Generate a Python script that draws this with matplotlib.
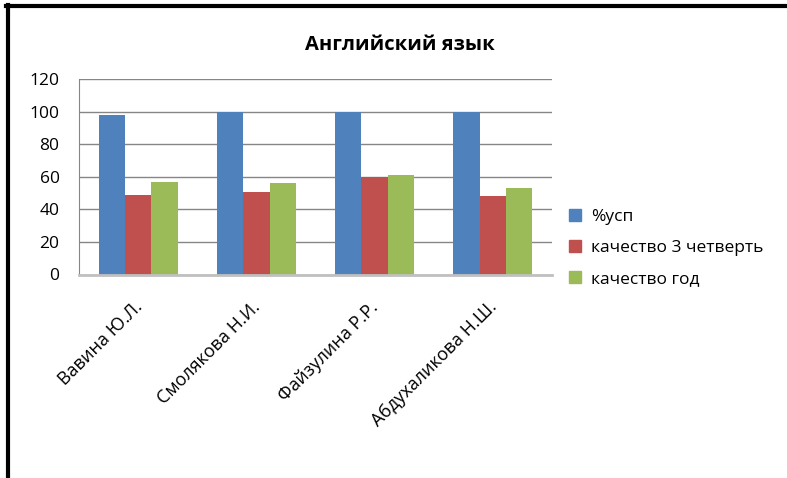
import matplotlib
matplotlib.use("Agg")
import matplotlib.pyplot as plt
import matplotlib.transforms as mtransforms
import numpy as np
from matplotlib.lines import Line2D

categories = ["Вавина Ю.Л.", "Смолякова Н.И.", "Файзулина Р.Р.", "Абдухаликова Н.Ш."]
series_names = ["%усп", "качество 3 четверть", "качество год"]
uspevaemost = [98, 100, 100, 100]
kachestvo_3q = [49, 50.5, 60, 48]
kachestvo_god = [56.5, 56, 61, 53]
colors = ["#4F81BD", "#C0504D", "#9BBB59"]
yticks = [0, 20, 40, 60, 80, 100, 120]

plt.rcParams['font.family'] = ['Open Sans', 'DejaVu Sans']

W, H = 787, 478
fig = plt.figure(figsize=(W / 100, H / 100), dpi=100)

# plot area in pixel coords
left, right, top, bottom = 79, 552, 79, 274.5
ax = fig.add_axes([left / W, 1 - bottom / H, (right - left) / W, (bottom - top) / H])

x = np.arange(len(categories))
bw = 1 / 4.5
data = [uspevaemost, kachestvo_3q, kachestvo_god]
for i, (vals, c, name) in enumerate(zip(data, colors, series_names)):
    ax.bar(x + (i - 1) * bw, vals, width=bw, color=c, label=name, zorder=3)

ax.set_xlim(-0.5, len(categories) - 0.5)
ax.set_ylim(0, 120)
ax.set_yticks(yticks)
ax.set_yticklabels([str(t) for t in yticks], fontsize=12.5)
ax.yaxis.grid(True, color="#868686", linewidth=1.0, zorder=0)
ax.tick_params(axis='y', length=0, pad=14)
ax.tick_params(axis='x', length=0, pad=17)
ax.set_xticks(x)
ax.set_xticklabels(categories, rotation=45, ha='right', rotation_mode='anchor', fontsize=13)
offset = mtransforms.ScaledTranslation(-5 / 100, 0, fig.dpi_scale_trans)
for lbl in ax.get_xticklabels():
    lbl.set_transform(lbl.get_transform() + offset)

for s in ["top", "right"]:
    ax.spines[s].set_visible(False)
ax.spines["left"].set_color("#868686")
ax.spines["bottom"].set_color("#C0C0C0")
ax.spines["bottom"].set_linewidth(2)
ax.spines["bottom"].set_zorder(4)

fig.text(400 / W, 1 - 45 / H, "Английский язык", ha='center', va='center',
         fontsize=14.5, fontweight='bold')

handles = [Line2D([0], [0], marker='s', linestyle='none', markersize=8,
                  markerfacecolor=c, markeredgecolor=c) for c in colors]
fig.legend(handles, series_names, loc='center left',
           bbox_to_anchor=(549 / W, 1 - 248 / H), frameon=False,
           fontsize=12.5, labelspacing=0.85, handletextpad=0.3, handlelength=1.2)

# outer frame lines (left and top)
fig.add_artist(Line2D([7.5 / W, 7.5 / W], [0, 1 - 5 / H], color='black', linewidth=3,
                      transform=fig.transFigure))
fig.add_artist(Line2D([6 / W, 787 / W], [1 - 5.5 / H, 1 - 5.5 / H], color='black', linewidth=3,
                      transform=fig.transFigure))

fig.savefig("out.png", dpi=100)
